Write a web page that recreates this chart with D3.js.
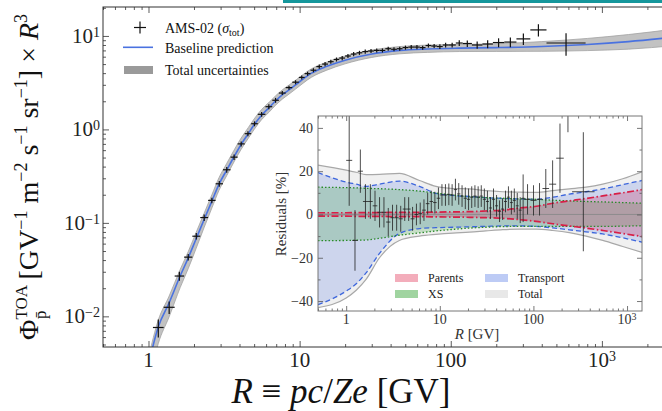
<!DOCTYPE html>
<html>
<head>
<meta charset="utf-8">
<script src="https://cdn.jsdelivr.net/npm/d3@7/dist/d3.min.js"></script>
<style>
  body { margin: 0; background: #fff; }
  svg { display: block; font-family: "Liberation Serif", "DejaVu Serif", serif; }
</style>
</head>
<body>
<svg id="chart" width="662" height="411"></svg>
<script>
// ---- main panel data: AMS-02 antiproton flux x R^3 ----
const amsEdges = [1.07, 1.26, 1.49, 1.72, 1.95, 2.20, 2.48, 2.78, 3.11, 3.49,
  3.89, 4.33, 4.78, 5.29, 5.94, 6.59, 7.29, 8.09, 8.94, 9.88,
  10.8, 11.8, 12.9, 14.1, 15.4, 16.8, 18.3, 20.0, 21.8, 23.8,
  26.0, 28.4, 31.0, 33.8, 36.9, 40.3, 44.0, 48.0, 52.4, 57.2,
  62.4, 68.1, 74.3, 81.1, 88.5, 96.6, 108, 120, 138, 162,
  190, 226, 272, 336, 430, 780];
const amsF = [0.0076, 0.0125, 0.027, 0.043, 0.072, 0.114, 0.174, 0.262, 0.37, 0.505,
  0.70, 0.90, 1.15, 1.45, 1.75, 2.05, 2.45, 2.8, 3.2, 3.6,
  3.95, 4.3, 4.7, 5.0, 5.3, 5.6, 5.8, 6.1, 6.4, 6.6,
  6.8, 6.9, 7.0, 7.0, 7.3, 7.2, 7.3, 7.5, 7.6, 7.6,
  7.5, 7.9, 7.8, 7.7, 8.0, 8.0, 8.4, 8.3, 8.0, 8.2,
  8.5, 8.6, 9.3, 11.6, 8.4];
const amsErr = [22, 15, 11, 8, 8, 8, 7, 7, 7, 7,
  6, 6, 6, 6, 6, 6, 5, 5, 5, 5,
  5, 5, 5, 5, 5, 5, 5, 5, 5, 5,
  5, 5, 5, 5, 5, 5, 5, 5, 5, 5,
  5, 5, 5, 6, 6, 6, 7, 8, 9, 10,
  11, 12, 14, 15, 27]; // percent

// baseline prediction and total-uncertainty band
const modelR = [0.9, 1.0, 1.16, 1.37, 1.62, 1.83, 2.07, 2.33, 2.63, 2.93, 3.3, 3.68, 4.1, 4.57, 5.0,
  5.6, 6.3, 6.9, 7.7, 8.5, 9.4, 12, 15, 20, 30, 46, 70, 114, 200, 400, 800, 1500, 3000];
const modelF = [0.0016, 0.0031, 0.0077, 0.0140, 0.027, 0.042, 0.068, 0.108, 0.172, 0.26, 0.37, 0.51, 0.69, 0.90, 1.12,
  1.42, 1.72, 2.0, 2.35, 2.65, 3.0, 4.0, 4.7, 5.5, 6.4, 7.0, 7.25, 7.4, 7.5, 7.7, 8.1, 8.7, 9.7];
const bandHi = [0.0019, 0.0037, 0.0091, 0.0165, 0.0317, 0.0491, 0.0796, 0.126, 0.201, 0.3055, 0.435, 0.599, 0.807, 1.044, 1.294,
  1.633, 1.961, 2.27, 2.656, 2.98, 3.36, 4.46, 5.22, 6.11, 7.07, 7.70, 7.98, 8.10, 8.25, 8.70, 9.40, 10.35, 11.83];
const bandLo = [0.00096, 0.0019, 0.0051, 0.0099, 0.0203, 0.0323, 0.0537, 0.0886, 0.145, 0.2236, 0.322, 0.449, 0.611, 0.801, 0.997,
  1.271, 1.539, 1.80, 2.115, 2.385, 2.70, 3.62, 4.28, 5.03, 5.89, 6.44, 6.67, 6.81, 6.83, 6.85, 6.97, 7.22, 7.86];

const mainXTicks = [1, 10, 100, 1000];
const mainXLabels = [['1'], ['10'], ['100'], ['10', '3']];
const mainYTicks = [10, 1, 0.1, 0.01];
const mainYLabels = [['10', '1'], ['10', '0'], ['10', '\u22121'], ['10', '\u22122']];

// ---- inset data: residuals ----
const resEdges = [1.00, 1.16, 1.33, 1.51, 1.71, 1.92, 2.15, 2.40, 2.67, 2.97,
  3.29, 3.64, 4.02, 4.43, 4.88, 5.37, 5.90, 6.47, 7.09, 7.76,
  8.48, 9.26, 10.1, 11.0, 12.0, 13.0, 14.1, 15.3, 16.6, 18.0,
  19.5, 21.1, 22.8, 24.7, 26.7, 28.8, 31.1, 33.5, 36.1, 38.9,
  41.9, 45.1, 48.5, 52.2, 56.1, 60.3, 64.8, 69.7, 74.9, 80.5,
  93.0, 108, 125, 147, 175, 211, 259, 450];
const resVal = [25, -12, 20, 6, 6, 4, 1, 1, -3.5, -1.5,
  -1.5, -2, 2.5, 2.5, -2, 0, 0.5, 2, 5, 6,
  5.5, 7.5, 9, 9, 9.3, 9, 11.5, 9.5, 8.5, 7.5,
  7, 8, 8.5, 8, 8.5, 7, 6, 3, 7, 4,
  1.5, 2.5, 6, 8, 5.5, 6.5, 4, 2, 7.5, 7,
  6.5, 7, 12, 14, 26, 55, 10.5];
const resErr = [21, 14, 10, 8, 8, 7, 7, 7, 6.5, 6,
  6, 6, 5.5, 5.5, 5.5, 5, 5, 5, 5, 5,
  5, 5, 5, 5, 5, 5, 5, 5, 5, 5,
  5, 5, 5, 5, 5, 5, 5, 5, 5, 5,
  5, 5, 5, 5, 5.5, 5.5, 6, 6, 11, 7,
  7, 7.5, 9, 11, 16, 17, 27.5];

const bandRin = [0.5, 1, 1.28, 1.63, 2.27, 3.7, 6.07, 9.1, 13.8, 20.7, 31, 47, 71, 107, 161, 242, 365, 550, 900, 1450];
const totHi = [22.8, 20.5, 19.5, 18.4, 18.5, 19, 15.7, 13, 12, 11.8, 11, 10.5, 10.3, 10.2, 11, 11.8, 12.6, 14, 16.5, 19.7];
const totLo = [-43, -38.6, -35, -30, -20, -12, -10, -9.2, -8.6, -8.2, -7.6, -7, -6.8, -6.8, -7.4, -8.4, -10, -12, -14.8, -17.5];
const trHi = [19.4, 15, 14, 13, 14, 15.4, 13, 9.8, 8.8, 8.3, 7.8, 7.4, 7.2, 7, 8, 9.4, 10.5, 11.8, 13.8, 15.7];
const trLo = [-41.7, -35.4, -32, -27, -18, -8.8, -6.5, -6.1, -5.9, -5.7, -5.5, -5.3, -5.3, -5.5, -6.2, -7.1, -8, -9, -10.8, -12.8];
const xsHi = [12.6, 12.4, 12.3, 12.1, 11.9, 11.5, 10.8, 9.9, 9.0, 8.3, 7.8, 7.5, 7.2, 7.0, 6.6, 6.3, 6.0, 5.8, 5.5, 5.2];
const xsLo = [-12.1, -12.0, -11.9, -11.8, -11.0, -9.6, -8.5, -7.6, -6.9, -6.3, -5.9, -5.6, -5.5, -5.5, -5.5, -5.5, -5.5, -5.5, -5.4, -5.2];
const parHi = [0.8, 0.8, 0.85, 0.9, 0.9, 1.0, 1.0, 1.1, 1.2, 1.3, 1.6, 2.0, 3.0, 3.8, 5.2, 6.3, 7.4, 8.6, 10.0, 11.5];
const parLo = [-0.8, -0.8, -0.85, -0.9, -0.9, -1.0, -1.0, -1.1, -1.2, -1.3, -1.5, -1.8, -2.4, -3.2, -4.3, -5.3, -6.3, -7.4, -8.8, -10.2];

const insetXTicks = [1, 10, 100, 1000];
const insetXLabels = [['1'], ['10'], ['100'], ['10', '3']];
const insetYTicks = [-40, -20, 0, 20, 40];
const insetYMinor = [-30, -10, 10, 30];

// ---------------------------------------------------------------
const svg = d3.select('#chart');
const defs = svg.append('defs');

// thin coloured strip at the top edge
svg.append('rect').attr('x', 283).attr('y', 0).attr('width', 379).attr('height', 3).attr('fill', '#15979c');

// main scales
const x = d3.scaleLog().domain([0.5, 3000]).range([103, 674]);
const y = d3.scaleLog().domain([0.0047, 20.4]).range([347, 7]);

defs.append('clipPath').attr('id', 'clipMain')
  .append('rect').attr('x', 103).attr('y', 7).attr('width', 571).attr('height', 340);

const gm = svg.append('g').attr('clip-path', 'url(#clipMain)');

const band = modelR.map((r, i) => ({ r, f: modelF[i], lo: bandLo[i], hi: bandHi[i] }));

gm.append('path').datum(band)
  .attr('d', d3.area().x(d => x(d.r)).y0(d => y(d.lo)).y1(d => y(d.hi)).curve(d3.curveMonotoneX))
  .attr('fill', '#c2c2c2').attr('stroke', '#a2a2a2').attr('stroke-width', 0.8);

gm.append('path').datum(band)
  .attr('d', d3.line().x(d => x(d.r)).y(d => y(d.f)).curve(d3.curveMonotoneX))
  .attr('fill', 'none').attr('stroke', '#4a72e0').attr('stroke-width', 1.6);

const ams = amsF.map((f, i) => ({
  lo: amsEdges[i], hi: amsEdges[i + 1],
  c: Math.sqrt(amsEdges[i] * amsEdges[i + 1]), f, e: amsErr[i] / 100,
}));

const gc = gm.append('g').attr('stroke', '#111').attr('stroke-width', 1.2);
gc.selectAll('line.h').data(ams).join('line').attr('class', 'h')
  .attr('x1', d => x(d.lo)).attr('x2', d => x(d.hi))
  .attr('y1', d => y(d.f)).attr('y2', d => y(d.f));
gc.selectAll('line.v').data(ams).join('line').attr('class', 'v')
  .attr('x1', d => x(d.c)).attr('x2', d => x(d.c))
  .attr('y1', d => y(d.f * (1 - d.e))).attr('y2', d => y(d.f * (1 + d.e)));

// axes helper: inward ticks, no domain line
function tickRow(axisFn, scale, values, len, transform, color) {
  svg.append('g').attr('transform', transform)
    .call(axisFn(scale).tickValues(values).tickSize(len).tickFormat(''))
    .call(g => g.select('.domain').remove())
    .selectAll('line').attr('stroke', color).attr('stroke-width', 0.8);
}
const isPow10 = v => Math.abs(Math.log10(v) - Math.round(Math.log10(v))) < 1e-6;

const mxMinor = x.ticks().filter(v => !isPow10(v));
const myMinor = y.ticks().filter(v => !isPow10(v));
tickRow(d3.axisBottom, x, mainXTicks, -6, 'translate(0,347)', '#333');
tickRow(d3.axisBottom, x, mxMinor, -3, 'translate(0,347)', '#333');
tickRow(d3.axisTop, x, mainXTicks, -6, 'translate(0,7)', '#333');
tickRow(d3.axisTop, x, mxMinor, -3, 'translate(0,7)', '#333');
tickRow(d3.axisLeft, y, mainYTicks, -6, 'translate(103,0)', '#333');
tickRow(d3.axisLeft, y, myMinor, -3, 'translate(103,0)', '#333');

svg.append('rect').attr('x', 103).attr('y', 7).attr('width', 571).attr('height', 340)
  .attr('fill', 'none').attr('stroke', '#333').attr('stroke-width', 1);

// tick labels
function powLabel(sel, parts, supSize) {
  sel.append('tspan').text(parts[0]);
  if (parts[1]) sel.append('tspan').attr('font-size', supSize).attr('dy', '-0.45em').text(parts[1]);
}
mainXTicks.forEach((v, i) => {
  const t = svg.append('text').attr('x', x(v)).attr('y', 367)
    .attr('text-anchor', 'middle').attr('font-size', 21).attr('fill', '#222');
  powLabel(t, mainXLabels[i], 14);
});
mainYTicks.forEach((v, i) => {
  const t = svg.append('text').attr('x', 100).attr('y', y(v) + 7)
    .attr('text-anchor', 'end').attr('font-size', 21).attr('fill', '#222');
  powLabel(t, mainYLabels[i], 14);
});

// axis titles
const xl = svg.append('text').attr('x', 341).attr('y', 403)
  .attr('text-anchor', 'middle').attr('font-size', 35).attr('fill', '#111');
xl.append('tspan').attr('font-style', 'italic').text('R');
xl.append('tspan').text(' \u2261 ');
xl.append('tspan').attr('font-style', 'italic').text('pc');
xl.append('tspan').text('/');
xl.append('tspan').attr('font-style', 'italic').text('Ze');
xl.append('tspan').text(' [GV]');

const yl = svg.append('text').attr('transform', 'translate(38,177) rotate(-90)')
  .attr('text-anchor', 'middle').attr('font-size', 28).attr('fill', '#111');
yl.append('tspan').text('\u03a6');
yl.append('tspan').attr('font-size', 17).attr('dy', -11).text('TOA');
yl.append('tspan').attr('font-size', 17).attr('dx', -34).attr('dy', 19).text('p\u0304');
yl.append('tspan').attr('dx', 24).attr('dy', -8).text(' [GV');
yl.append('tspan').attr('font-size', 18).attr('dy', -11).text('\u22121');
yl.append('tspan').attr('dy', 11).text(' m');
yl.append('tspan').attr('font-size', 18).attr('dy', -11).text('\u22122');
yl.append('tspan').attr('dy', 11).text(' s');
yl.append('tspan').attr('font-size', 18).attr('dy', -11).text('\u22121');
yl.append('tspan').attr('dy', 11).text(' sr');
yl.append('tspan').attr('font-size', 18).attr('dy', -11).text('\u22121');
yl.append('tspan').attr('dy', 11).text('] \u00d7 ');
yl.append('tspan').attr('font-style', 'italic').text('R');
yl.append('tspan').attr('font-size', 18).attr('dy', -11).text('3');

// main legend
const lg = svg.append('g').attr('font-size', 14).attr('fill', '#111');
lg.append('line').attr('x1', 134).attr('x2', 146).attr('y1', 27.5).attr('y2', 27.5).attr('stroke', '#111').attr('stroke-width', 1.2);
lg.append('line').attr('x1', 140).attr('x2', 140).attr('y1', 21.5).attr('y2', 33.5).attr('stroke', '#111').attr('stroke-width', 1.2);
const l1 = lg.append('text').attr('x', 165).attr('y', 32.5);
l1.append('tspan').text('AMS-02 (');
l1.append('tspan').attr('font-style', 'italic').text('\u03c3');
l1.append('tspan').attr('font-size', 10).attr('dy', 3).text('tot');
l1.append('tspan').attr('dy', -3).text(')');
lg.append('line').attr('x1', 123).attr('x2', 153).attr('y1', 47.3).attr('y2', 47.3).attr('stroke', '#4a72e0').attr('stroke-width', 1.6);
lg.append('text').attr('x', 165).attr('y', 52.5).text('Baseline prediction');
lg.append('rect').attr('x', 124).attr('y', 66).attr('width', 29).attr('height', 8).attr('fill', '#9a9a9a');
lg.append('text').attr('x', 165).attr('y', 75).text('Total uncertainties');

// ---------------- inset ----------------
const xi = d3.scaleLog().domain([0.5, 1445]).range([318, 642]);
const yi = d3.scaleLinear().domain([-44.6, 45.5]).range([311, 116]);

svg.append('rect').attr('x', 318).attr('y', 116).attr('width', 324).attr('height', 195).attr('fill', '#fff');
defs.append('clipPath').attr('id', 'clipInset')
  .append('rect').attr('x', 318).attr('y', 116).attr('width', 324).attr('height', 195);
const gi = svg.append('g').attr('clip-path', 'url(#clipInset)');

const bands = [
  { lo: totLo, hi: totHi, fill: '#e4e4e4', op: 0.55, stroke: '#a8a8a8', dash: null, sw: 1.2 },
  { lo: trLo, hi: trHi, fill: '#4169e1', op: 0.2, stroke: '#3d66dc', dash: '5,3', sw: 1.3 },
  { lo: xsLo, hi: xsHi, fill: '#2ca02c', op: 0.22, stroke: '#2a8a2a', dash: '1.5,2', sw: 1.3 },
  { lo: parLo, hi: parHi, fill: '#c8164a', op: 0.24, stroke: '#d81e46', dash: '7,2.5,1.5,2.5', sw: 1.7 },
];
const bArea = d3.area().x(d => xi(d.r)).y0(d => yi(d.lo)).y1(d => yi(d.hi)).curve(d3.curveMonotoneX);
const bLine = key => d3.line().x(d => xi(d.r)).y(d => yi(d[key])).curve(d3.curveMonotoneX);

bands.forEach(b => {
  const pts = bandRin.map((r, i) => ({ r, lo: b.lo[i], hi: b.hi[i] }));
  gi.append('path').datum(pts).attr('d', bArea).attr('fill', b.fill).attr('fill-opacity', b.op);
  b.pts = pts;
});
gi.append('line').attr('x1', 318).attr('x2', 642).attr('y1', yi(0)).attr('y2', yi(0))
  .attr('stroke', '#8a8a8a').attr('stroke-width', 0.9);
bands.forEach(b => {
  ['lo', 'hi'].forEach(k => {
    gi.append('path').datum(b.pts).attr('d', bLine(k)).attr('fill', 'none')
      .attr('stroke', b.stroke).attr('stroke-width', b.sw)
      .attr('stroke-dasharray', b.dash);
  });
});

const res = resVal.map((v, i) => ({
  lo: resEdges[i], hi: resEdges[i + 1],
  c: Math.sqrt(resEdges[i] * resEdges[i + 1]), v, e: resErr[i],
}));
const gr = gi.append('g').attr('stroke', '#222').attr('stroke-width', 1).attr('stroke-opacity', 0.8);
gr.selectAll('line.h').data(res).join('line').attr('class', 'h')
  .attr('x1', d => xi(d.lo)).attr('x2', d => xi(d.hi))
  .attr('y1', d => yi(d.v)).attr('y2', d => yi(d.v));
gr.selectAll('line.v').data(res).join('line').attr('class', 'v')
  .attr('x1', d => xi(d.c)).attr('x2', d => xi(d.c))
  .attr('y1', d => yi(d.v - d.e)).attr('y2', d => yi(d.v + d.e));

const ixMinor = xi.ticks().filter(v => !isPow10(v));
tickRow(d3.axisBottom, xi, insetXTicks, -5, 'translate(0,311)', '#555');
tickRow(d3.axisBottom, xi, ixMinor, -2.5, 'translate(0,311)', '#555');
tickRow(d3.axisTop, xi, insetXTicks, -5, 'translate(0,116)', '#555');
tickRow(d3.axisTop, xi, ixMinor, -2.5, 'translate(0,116)', '#555');
tickRow(d3.axisLeft, yi, insetYTicks, -5, 'translate(318,0)', '#555');
tickRow(d3.axisLeft, yi, insetYMinor, -2.5, 'translate(318,0)', '#555');
tickRow(d3.axisRight, yi, insetYTicks, -5, 'translate(642,0)', '#555');
tickRow(d3.axisRight, yi, insetYMinor, -2.5, 'translate(642,0)', '#555');

svg.append('rect').attr('x', 318).attr('y', 116).attr('width', 324).attr('height', 195)
  .attr('fill', 'none').attr('stroke', '#777').attr('stroke-width', 1);

insetXTicks.forEach((v, i) => {
  const t = svg.append('text').attr('x', xi(v)).attr('y', 324)
    .attr('text-anchor', 'middle').attr('font-size', 14).attr('fill', '#333');
  powLabel(t, insetXLabels[i], 10);
});
insetYTicks.forEach(v => {
  svg.append('text').attr('x', 313).attr('y', yi(v) + 5)
    .attr('text-anchor', 'end').attr('font-size', 14).attr('fill', '#333')
    .text(v < 0 ? '\u2212' + Math.abs(v) : String(v));
});
const ixl = svg.append('text').attr('x', 477).attr('y', 339)
  .attr('text-anchor', 'middle').attr('font-size', 15).attr('fill', '#333');
ixl.append('tspan').attr('font-style', 'italic').text('R');
ixl.append('tspan').text(' [GV]');
svg.append('text').attr('transform', 'translate(286,214) rotate(-90)')
  .attr('text-anchor', 'middle').attr('font-size', 15).attr('fill', '#333')
  .text('Residuals [%]');

// inset legend
const legItems = [
  { name: 'Parents', fill: '#dc143c', op: 0.35, col: 0, row: 0 },
  { name: 'XS', fill: '#2ca02c', op: 0.45, col: 0, row: 1 },
  { name: 'Transport', fill: '#4169e1', op: 0.35, col: 1, row: 0 },
  { name: 'Total', fill: '#d8d8d8', op: 0.6, col: 1, row: 1 },
];
const li = svg.append('g').attr('font-size', 12).attr('fill', '#222');
legItems.forEach(d => {
  const lx = 395 + d.col * 90, ly = 274 + d.row * 16;
  li.append('rect').attr('x', lx).attr('y', ly).attr('width', 23).attr('height', 8)
    .attr('fill', d.fill).attr('fill-opacity', d.op);
  li.append('text').attr('x', lx + 33).attr('y', ly + 8).text(d.name);
});
</script>
</body>
</html>
